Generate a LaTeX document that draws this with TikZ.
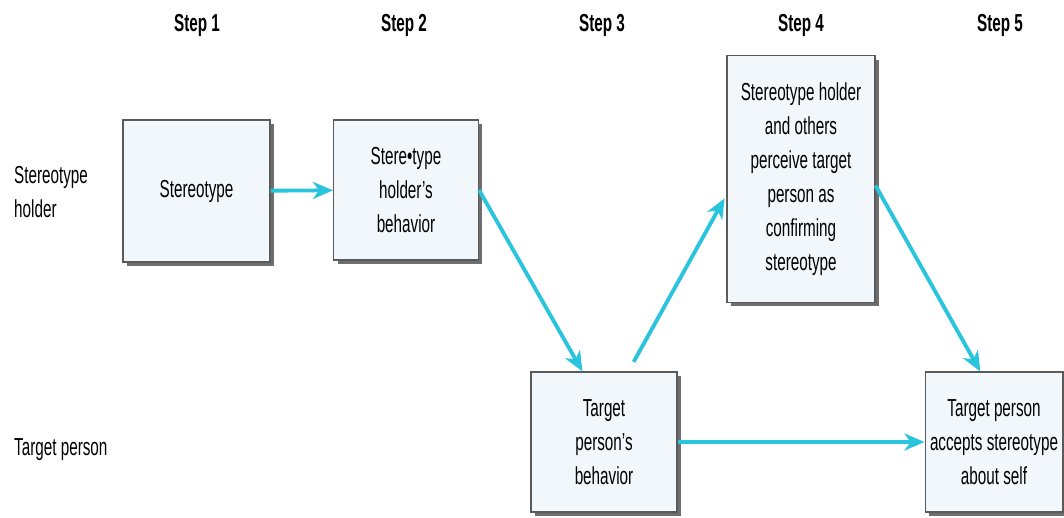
\documentclass[tikz,border=0pt]{standalone}
\usepackage{fontspec}
\setmainfont{Liberation Sans}[FakeStretch=0.62]
\usepackage{tikz}
\usetikzlibrary{arrows.meta,shadows}
\definecolor{boxfill}{HTML}{F1F7FB}
\definecolor{boxline}{HTML}{5A5A5A}
\definecolor{shade}{HTML}{6E6E6E}
\definecolor{flowcyan}{HTML}{2BC4DD}
\tikzset{
  stagebox/.style={
    rectangle, draw=boxline, line width=0.6pt, fill=boxfill,
    align=center, inner sep=0pt, font=\fontsize{14}{19.4}\selectfont,
    drop shadow={shadow xshift=0.08cm, shadow yshift=-0.08cm, fill=shade, opacity=1}
  },
  flowarrow/.style={-{Stealth[length=4mm,width=3.4mm,inset=1.2mm]}, line width=2.2pt, color=flowcyan},
  steplabel/.style={font=\bfseries\fontsize{14}{17}\selectfont},
  rowlabel/.style={anchor=west, align=left, font=\fontsize{14}{19.4}\selectfont},
}

\begin{document}
\begin{tikzpicture}[x=0.02cm, y=-0.02cm]
  \useasboundingbox (0,0) rectangle (1064,517);

  % step headings
  \foreach \n/\x in {1/197,2/404,3/602,4/801,5/1000}
    \node[steplabel] (step\n) at (\x,25) {Step \n};

  % row labels
  \node[rowlabel] (holderrow) at (8,192) {Stereotype\\holder};
  \node[rowlabel] (targetrow) at (8,450) {Target person};

  % boxes
  \node[stagebox, minimum width=2.94cm, minimum height=2.84cm] (stereo) at (196.5,191) {Stereotype};
  \node[stagebox, minimum width=2.9cm, minimum height=2.8cm] (holderbeh) at (406,190) {Stere•type\\holder's\\behavior};
  \node[stagebox, minimum width=2.92cm, minimum height=2.8cm] (targetbeh) at (604,442) {Target\\person's\\behavior};
  \node[stagebox, minimum width=2.96cm, minimum height=4.94cm] (perceive) at (801,179) {Stereotype holder\\and others\\perceive target\\person as\\confirming\\stereotype};
  \node[stagebox, minimum width=2.76cm, minimum height=2.8cm] (accepts) at (994,442) {Target person\\accepts stereotype\\about self};

  % arrows
  \draw[flowarrow] (stereo) -- (holderbeh);
  \draw[flowarrow] (holderbeh.east) -- (targetbeh.107);
  \draw[flowarrow, shorten <=0.22cm, shorten >=0.08cm] (targetbeh.71) -- (perceive.192);
  \draw[flowarrow] (perceive.355) -- (accepts.101);
  \draw[flowarrow] (targetbeh) -- (accepts);
\end{tikzpicture}
\end{document}
